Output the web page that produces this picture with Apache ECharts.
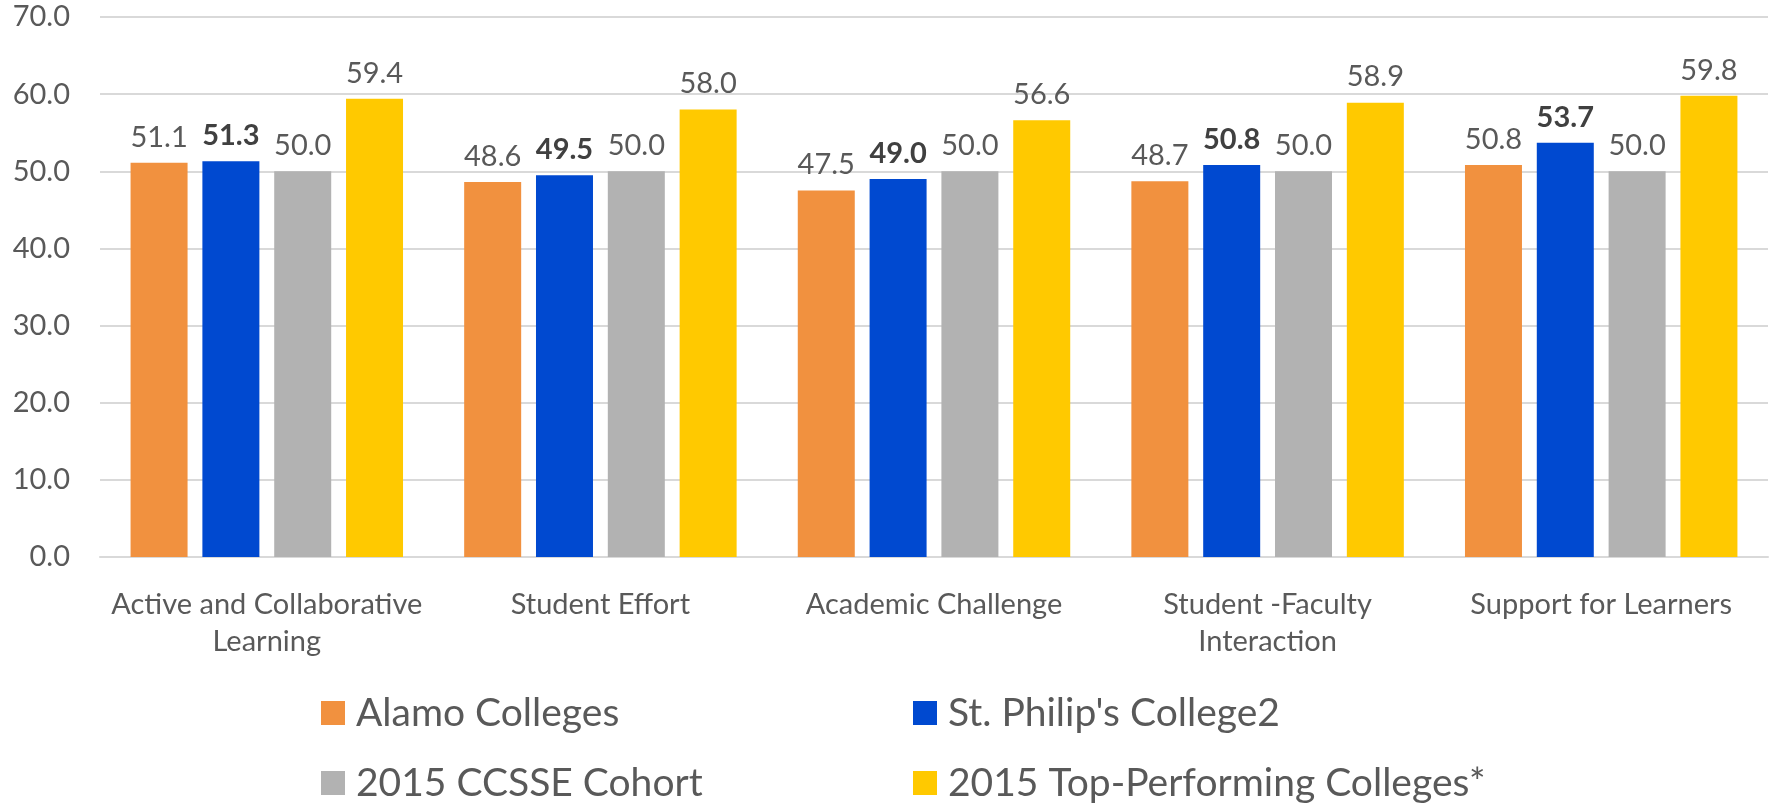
<!DOCTYPE html>
<html>
<head>
<meta charset="utf-8">
<script src="https://cdn.jsdelivr.net/npm/echarts@6/dist/echarts.min.js"></script>
<style>
html,body{margin:0;padding:0;background:#fff;}
#chart{width:1771px;height:807px;}
</style>
</head>
<body>
<div id="chart"></div>
<script>
const categories = ["Active and Collaborative\nLearning", "Student Effort", "Academic Challenge", "Student -Faculty\nInteraction", "Support for Learners"];
const seriesNames = ["Alamo Colleges", "St. Philip's College2", "2015 CCSSE Cohort", "2015 Top-Performing Colleges*"];
const alamo = [51.1, 48.6, 47.5, 48.7, 50.8];
const stPhilips = [51.3, 49.5, 49.0, 50.8, 53.7];
const cohort = [50.0, 50.0, 50.0, 50.0, 50.0];
const topPerforming = [59.4, 58.0, 56.6, 58.9, 59.8];
const yTicks = [0, 10, 20, 30, 40, 50, 60, 70];

const FONT = 'Lato';
const TXT = '#595959';
const colors = ['#F1913F', '#0049D0', '#B2B2B2', '#FFC900'];
const values = [alamo, stPhilips, cohort, topPerforming];

const legendBase = {
  orient: 'vertical', top: 692, height: 115, padding: 0,
  itemWidth: 24, itemHeight: 24, itemGap: 28, icon: 'rect',
  textStyle: {color: TXT, fontFamily: FONT, fontSize: 39, lineHeight: 42, padding: [0, 0, 0, 6]}
};

const chart = echarts.init(document.getElementById('chart'), null, {renderer: 'canvas'});
chart.setOption({
  animation: false,
  textStyle: {fontFamily: FONT},
  grid: {left: 100, right: 3, top: 17, bottom: 250, containLabel: false},
  xAxis: {
    type: 'category',
    data: categories,
    axisTick: {show: false},
    axisLine: {show: true, lineStyle: {color: '#D9D9D9', width: 2}},
    axisLabel: {color: TXT, fontFamily: FONT, fontSize: 29, lineHeight: 37, margin: 29, interval: 0}
  },
  yAxis: {
    type: 'value',
    min: yTicks[0], max: yTicks[yTicks.length - 1], interval: 10,
    axisLine: {show: false},
    axisTick: {show: false},
    splitLine: {lineStyle: {color: '#D9D9D9', width: 2}},
    axisLabel: {color: TXT, fontFamily: FONT, fontSize: 29, margin: 30, formatter: v => v.toFixed(1)}
  },
  legend: [
    Object.assign({}, legendBase, {left: 321, data: [seriesNames[0], seriesNames[2]]}),
    Object.assign({}, legendBase, {left: 913, data: [seriesNames[1], seriesNames[3]]})
  ],
  series: seriesNames.map((name, i) => ({
    name: name,
    type: 'bar',
    data: values[i],
    barWidth: 57,
    barGap: '26%',
    itemStyle: {color: colors[i]},
    label: {
      show: true, position: 'top', distance: 11,
      color: i === 1 ? '#404040' : TXT,
      fontFamily: FONT, fontSize: 29,
      fontWeight: i === 1 ? 'bold' : 'normal',
      formatter: p => p.value.toFixed(1)
    }
  }))
});
</script>
</body>
</html>
